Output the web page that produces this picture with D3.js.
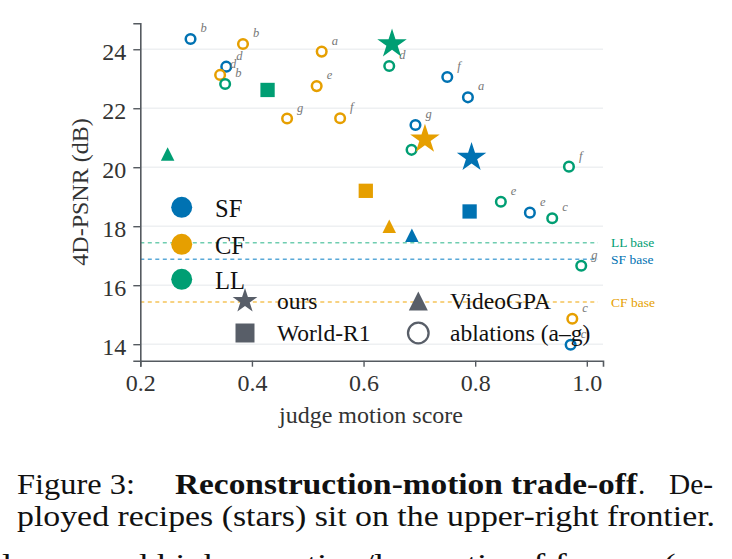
<!DOCTYPE html>
<html>
<head>
<meta charset="utf-8">
<title>Reconstruction-motion trade-off</title>
<script src="https://d3js.org/d3.v7.min.js"></script>
<style>
  body { margin: 0; background: #fff; }
  text { font-family: "Liberation Serif", "Times New Roman", serif; }
</style>
</head>
<body>
<svg id="chart" width="732" height="559"></svg>
<script>
// ---- data ----
var groups = ["SF", "CF", "LL"];
var groupColors = ["#0072B2", "#E69F00", "#009E73"];
var baseColors = ["#5aa9d8", "#f5c45a", "#6fcdb0"];

var letters = ["a", "b", "c", "d", "e", "f", "g"];
var sfAblX = [0.787, 0.290, 0.971, 0.354, 0.898, 0.750, 0.693];
var sfAblY = [22.37, 24.35, 13.98, 23.41, 18.46, 23.06, 21.43];
var cfAblX = [0.525, 0.384, 0.974, 0.343, 0.516, 0.558, 0.463];
var cfAblY = [23.92, 24.18, 14.86, 23.13, 22.75, 21.66, 21.65];
var llAblX = [0.686, 0.352, 0.938, 0.646, 0.846, 0.968, 0.990];
var llAblY = [20.59, 22.82, 18.27, 23.43, 18.83, 20.02, 16.66];

// ours (stars), World-R1 (squares), VideoGPA (triangles): SF, CF, LL
var oursX = [0.7935, 0.710, 0.651];
var oursY = [20.33, 20.95, 24.18];
var worldX = [0.790, 0.604, 0.428];
var worldY = [18.50, 19.20, 22.62];
var gpaX = [0.6866, 0.646, 0.249];
var gpaY = [17.69, 18.00, 20.45];

// dashed baselines (LL, SF, CF order as labelled)
var baseNames = ["LL base", "SF base", "CF base"];
var baseGroup = [2, 0, 1];
var baseVals = [17.44, 16.88, 15.43];

var xTicks = [0.2, 0.4, 0.6, 0.8, 1.0];
var yTicks = [14, 16, 18, 20, 22, 24];

// ---- scales ----
var svg = d3.select("#chart");
var x = d3.scaleLinear().domain([0.2, 1.029]).range([140.3, 603]);
var y = d3.scaleLinear().domain([13.44, 24.88]).range([360.7, 23.3]);

var axisColor = "#555a60";

// grid
svg.append("g").selectAll("line").data(yTicks).enter().append("line")
  .attr("x1", x(0.2)).attr("x2", x(1.029))
  .attr("y1", function(d) { return y(d); }).attr("y2", function(d) { return y(d); })
  .style("stroke", "#eef0f2").style("stroke-width", 1.5);

// baselines
var bases = svg.append("g");
baseVals.forEach(function(v, i) {
  bases.append("line")
    .attr("x1", x(0.2)).attr("x2", x(1.02))
    .attr("y1", y(v)).attr("y2", y(v))
    .style("stroke", baseColors[baseGroup[i]]).style("stroke-width", 1.4)
    .style("stroke-dasharray", "4,3.5");
  bases.append("text")
    .attr("x", 611).attr("y", y(v)).attr("dy", "0.35em")
    .style("font-size", "13.5px")
    .style("fill", groupColors[baseGroup[i]])
    .text(baseNames[i]);
});

// axes
var yAxis = svg.append("g").attr("transform", "translate(140.3,0)")
  .call(d3.axisLeft(y).tickValues(yTicks).tickSize(7).tickPadding(7).tickFormat(d3.format("d")));
var xAxis = svg.append("g").attr("transform", "translate(0,360.7)")
  .call(d3.axisBottom(x).tickValues(xTicks).tickSize(6).tickPadding(7).tickFormat(d3.format(".1f")));
[xAxis, yAxis].forEach(function(a) {
  a.select(".domain").style("stroke", axisColor).style("stroke-width", 1.6);
  a.selectAll(".tick line").style("stroke", axisColor).style("stroke-width", 1.4);
  a.selectAll(".tick text").style("font-family", "Liberation Serif, serif")
    .style("font-size", "24px").style("fill", "#333");
});
yAxis.selectAll(".tick text").attr("dy", "0.42em");

svg.append("text")
  .attr("transform", "translate(88,192) rotate(-90)")
  .style("text-anchor", "middle").style("font-size", "24px").style("fill", "#333")
  .text("4D-PSNR (dB)");
svg.append("text")
  .attr("x", 371).attr("y", 423)
  .style("text-anchor", "middle").style("font-size", "24px").style("fill", "#333")
  .text("judge motion score");

// ---- marks ----
var ablX = [sfAblX, cfAblX, llAblX];
var ablY = [sfAblY, cfAblY, llAblY];
var marks = svg.append("g");
var labels = svg.append("g");

groups.forEach(function(g, gi) {
  var pts = letters.map(function(l, i) { return { l: l, x: ablX[gi][i], y: ablY[gi][i] }; });
  marks.selectAll(null).data(pts).enter().append("circle")
    .attr("cx", function(d) { return x(d.x); })
    .attr("cy", function(d) { return y(d.y); })
    .attr("r", 4.8)
    .style("fill", "white").style("stroke", groupColors[gi]).style("stroke-width", 2.5);
  labels.selectAll(null).data(pts).enter().append("text")
    .attr("x", function(d) { return x(d.x) + 10; })
    .attr("y", function(d) { return y(d.y) - 7; })
    .style("font-size", "12.5px").style("font-style", "italic").style("fill", "#777")
    .text(function(d) { return d.l; });
});

function triPath(w) {
  return "M0," + (-w / 2) + "L" + (w / 2) + "," + (w / 2) + "L" + (-w / 2) + "," + (w / 2) + "Z";
}
var starSym = function(R) { return d3.symbol().type(d3.symbolStar).size(R * R / 0.8908130915)(); };

var front = svg.append("g");
groups.forEach(function(g, gi) {
  front.append("path")
    .attr("transform", "translate(" + x(worldX[gi]) + "," + y(worldY[gi]) + ")")
    .attr("d", d3.symbol().type(d3.symbolSquare).size(14.3 * 14.3)())
    .style("fill", groupColors[gi]);
  front.append("path")
    .attr("transform", "translate(" + x(gpaX[gi]) + "," + y(gpaY[gi]) + ")")
    .attr("d", triPath(13.5))
    .style("fill", groupColors[gi]);
});
groups.forEach(function(g, gi) {
  front.append("path")
    .attr("transform", "translate(" + x(oursX[gi]) + "," + y(oursY[gi]) + ")")
    .attr("d", starSym(15.5))
    .style("fill", groupColors[gi]);
});

// ---- legends ----
var leg = svg.append("g");
var legY = [207.3, 244.3, 279.3];
groups.forEach(function(g, gi) {
  leg.append("circle").attr("cx", 181.7).attr("cy", legY[gi]).attr("r", 10.5)
    .style("fill", groupColors[gi]);
  leg.append("text").attr("x", 215).attr("y", legY[gi] + 9.3)
    .style("font-size", "24.5px").style("fill", "#111").text(g);
});

var mk = "#585e68";
var leg2 = svg.append("g");
leg2.append("path").attr("transform", "translate(245,301)").attr("d", starSym(13)).style("fill", mk);
leg2.append("text").attr("x", 277).attr("y", 308.5).style("font-size", "23.5px").style("fill", "#111").text("ours");
leg2.append("path").attr("transform", "translate(245,333)")
  .attr("d", d3.symbol().type(d3.symbolSquare).size(19 * 19)()).style("fill", mk);
leg2.append("text").attr("x", 277).attr("y", 341).style("font-size", "23.5px").style("fill", "#111").text("World-R1");
leg2.append("path").attr("transform", "translate(418.3,301)").attr("d", triPath(19)).style("fill", mk);
leg2.append("text").attr("x", 450).attr("y", 308.5).style("font-size", "23.5px").style("fill", "#111").text("VideoGPA");
leg2.append("circle").attr("cx", 418.3).attr("cy", 333).attr("r", 10.3)
  .style("fill", "none").style("stroke", mk).style("stroke-width", 2.3);
leg2.append("text").attr("x", 450).attr("y", 341).style("font-size", "23.5px").style("fill", "#111").text("ablations (a\u2013g)");

// ---- caption ----
var cap = svg.append("g").style("fill", "#111");
cap.append("text").attr("x", 17).attr("y", 493.5).style("font-size", "29px")
  .attr("textLength", 118).attr("lengthAdjust", "spacingAndGlyphs").text("Figure 3:");
cap.append("text").attr("x", 175).attr("y", 493.5).style("font-size", "29px").style("font-weight", "bold")
  .attr("textLength", 462).attr("lengthAdjust", "spacingAndGlyphs").text("Reconstruction-motion trade-off");
cap.append("text").attr("x", 638).attr("y", 493.5).style("font-size", "29px").text(".");
cap.append("text").attr("x", 669).attr("y", 493.5).style("font-size", "29px")
  .attr("textLength", 44).attr("lengthAdjust", "spacingAndGlyphs").text("De-");
cap.append("text").attr("x", 17).attr("y", 526).style("font-size", "29px")
  .attr("textLength", 698).attr("lengthAdjust", "spacingAndGlyphs")
  .text("ployed recipes (stars) sit on the upper-right frontier.");
// next line of the caption, only the tops of its tall letters show in the crop
cap.append("text").attr("x", 2).attr("y", 574).style("font-size", "29px")
  .attr("textLength", 690).attr("lengthAdjust", "spacingAndGlyphs")
  .text("lower and higher motion/low ratio of frames (a");
</script>
</body>
</html>
